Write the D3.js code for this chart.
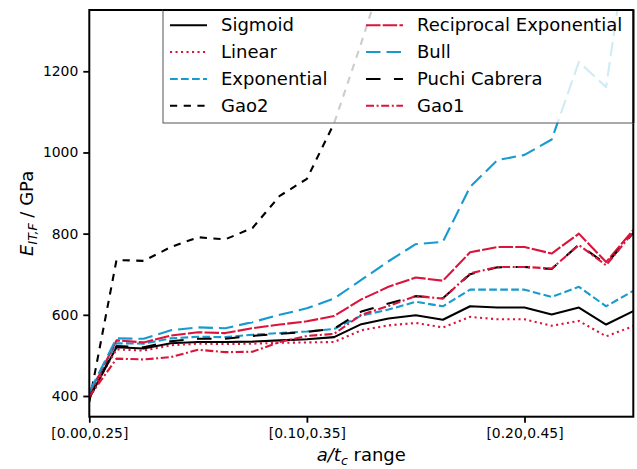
<!DOCTYPE html>
<html>
<head>
<meta charset="utf-8">
<script src="https://cdn.jsdelivr.net/npm/d3@7"></script>
<style>
  html, body { margin: 0; padding: 0; background: #fff; }
  svg { display: block; font-family: "DejaVu Sans", sans-serif; }
</style>
</head>
<body>
<svg id="chart" width="637" height="469"></svg>
<script>
// ---- data ----
const aStart = [0.0000, 0.0125, 0.0250, 0.0375, 0.0500, 0.0625, 0.0750, 0.0875, 0.1000, 0.1125,
                0.1250, 0.1375, 0.1500, 0.1625, 0.1750, 0.1875, 0.2000, 0.2125, 0.2250, 0.2375, 0.2500];
const tickValues = [0.00, 0.10, 0.20];
const tickLabels = ["[0.00,0.25]", "[0.10,0.35]", "[0.20,0.45]"];
const yTicks = [400, 600, 800, 1000, 1200];

const sigmoid     = [395, 520, 517, 530, 533, 533, 534, 537, 540, 545, 577, 591, 599, 588, 621, 618, 618, 601, 618, 576, 609];
const linear      = [400, 515, 512, 525, 529, 528, 529, 531, 532, 533, 562, 574, 580, 569, 595, 589, 589, 573, 585, 547, 572];
const exponential = [408, 530, 529, 542, 546, 545, 551, 555, 559, 565, 598, 613, 632, 621, 662, 662, 662, 644, 669, 621, 659];
const gao2        = [385, 735, 733, 767, 791, 786, 814, 893, 935, 1072, 1270, 1480, 1560, 1610, 1680, 1720, 1760, 1800, 1850, 1900, 1950];
const reciprocal  = [402, 537, 532, 549, 557, 555, 567, 576, 584, 597, 638, 669, 692, 684, 754, 767, 767, 751, 800, 730, 809];
const bull        = [410, 542, 541, 562, 569, 567, 582, 600, 616, 640, 686, 732, 774, 780, 915, 981, 994, 1032, 1223, 1161, 1620];
const puchi       = [395, 523, 520, 535, 541, 541, 548, 553, 558, 566, 608, 628, 646, 641, 700, 717, 718, 713, 773, 725, 802];
const gao1        = [398, 492, 490, 496, 514, 508, 509, 533, 548, 553, 600, 622, 646, 640, 702, 718, 718, 714, 772, 722, 804];

const seriesNames = ["Sigmoid", "Linear", "Exponential", "Gao2",
                     "Reciprocal Exponential", "Bull", "Puchi Cabrera", "Gao1"];
const seriesValues = [sigmoid, linear, exponential, gao2, reciprocal, bull, puchi, gao1];

// ---- styles ----
const RED = "#dc143c", BLUE = "#169acf", BLACK = "#000000";
const styles = [
  {color: BLACK, dash: null},
  {color: RED,   dash: "2.1,3.4"},
  {color: BLUE,  dash: "7.7,3.3"},
  {color: BLACK, dash: "7.2,6.5"},
  {color: RED,   dash: "14.5,2.2"},
  {color: BLUE,  dash: "14.5,6"},
  {color: BLACK, dash: "14.5,13.5"},
  {color: RED,   dash: "8,2.6,2,2.6"}
];

const svg = d3.select("#chart");
const L = 89.3, R = 633.3, T = 10, B = 416.7;

const x = d3.scaleLinear().domain([aStart[0], aStart[aStart.length - 1]]).range([L, R]);
const y = d3.scaleLinear().domain([349, 1351]).range([B, T]);

svg.append("defs").append("clipPath").attr("id", "clip")
  .append("rect").attr("x", L).attr("y", T).attr("width", R - L).attr("height", B - T);

const line = d3.line().x((d, i) => x(aStart[i])).y(d => y(d));

const g = svg.append("g").attr("clip-path", "url(#clip)");
seriesValues.forEach((vals, k) => {
  g.append("path")
    .attr("d", line(vals))
    .attr("fill", "none")
    .attr("stroke", styles[k].color)
    .attr("stroke-width", 2.1)
    .attr("stroke-linejoin", "round")
    .attr("stroke-dasharray", styles[k].dash);
});

// ---- axes ----
const xAxis = d3.axisBottom(x).tickValues(tickValues)
  .tickFormat((d, i) => tickLabels[i]).tickSize(6).tickPadding(5);
const yAxis = d3.axisLeft(y).tickValues(yTicks).tickFormat(d3.format("d")).tickSize(6).tickPadding(5);

const gx = svg.append("g").attr("transform", `translate(0,${B})`).call(xAxis);
const gy = svg.append("g").attr("transform", `translate(${L},0)`).call(yAxis);
[gx, gy].forEach(ax => {
  ax.attr("font-size", null).attr("font-family", null);
  ax.select(".domain").remove();
  ax.selectAll(".tick line").attr("stroke", "#000").attr("stroke-width", 1.8);
  ax.selectAll(".tick text").style("font-size", "13.9px")
    .style("font-family", "DejaVu Sans").attr("fill", "#000");
});

// frame
svg.append("rect").attr("x", L).attr("y", T).attr("width", R - L).attr("height", B - T)
  .attr("fill", "none").attr("stroke", "#000").attr("stroke-width", 2);

// axis labels
const xl = svg.append("text").attr("x", (L + R) / 2).attr("y", 461)
  .attr("text-anchor", "middle").style("font-size", "18px");
xl.append("tspan").attr("font-style", "italic").text("a/t");
xl.append("tspan").attr("font-style", "italic").style("font-size", "12.6px").attr("dy", 4).text("c");
xl.append("tspan").attr("dy", -4).text(" range");

const yl = svg.append("text").attr("transform", `translate(33,${(T + B) / 2}) rotate(-90)`)
  .attr("text-anchor", "middle").style("font-size", "18px");
yl.append("tspan").attr("font-style", "italic").text("E");
yl.append("tspan").attr("font-style", "italic").style("font-size", "12.6px").attr("dy", 4).text("IT,F");
yl.append("tspan").attr("dy", -4).text(" / GPa");

// ---- legend ----
const lg = svg.append("g");
lg.append("rect").attr("x", 163).attr("y", T).attr("width", R - 163).attr("height", 113)
  .attr("fill", "#fff").attr("fill-opacity", 0.8)
  .attr("stroke", "#555").attr("stroke-width", 1);
const rowY = [25.3, 52, 79, 105.7];
const colX = [170, 366];
seriesNames.forEach((name, k) => {
  const c = Math.floor(k / 4), r = k % 4;
  const hx = colX[c], hy = rowY[r];
  lg.append("line").attr("x1", hx).attr("x2", hx + 37).attr("y1", hy).attr("y2", hy)
    .attr("stroke", styles[k].color).attr("stroke-width", 2.1)
    .attr("stroke-dasharray", styles[k].dash);
  lg.append("text").attr("x", hx + 51).attr("y", hy + 5.8)
    .style("font-size", "18px").attr("fill", "#000").text(name);
});
// redraw the frame edges that the legend covers
svg.append("line").attr("x1", 163).attr("x2", R).attr("y1", T).attr("y2", T)
  .attr("stroke", "#000").attr("stroke-width", 2);
svg.append("line").attr("x1", R).attr("x2", R).attr("y1", T).attr("y2", 123)
  .attr("stroke", "#000").attr("stroke-width", 2);
</script>
</body>
</html>
